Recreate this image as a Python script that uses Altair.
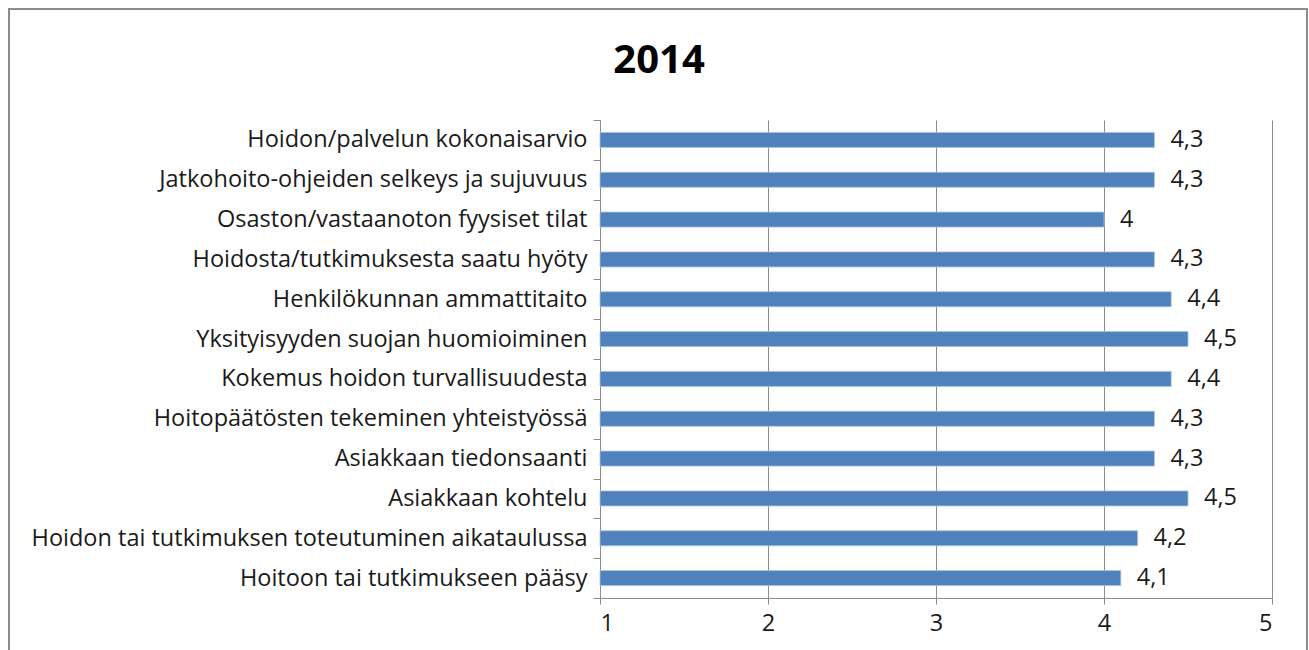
import altair as alt
import pandas as pd

categories = [
    "Hoidon/palvelun kokonaisarvio",
    "Jatkohoito-ohjeiden selkeys ja sujuvuus",
    "Osaston/vastaanoton fyysiset tilat",
    "Hoidosta/tutkimuksesta saatu hyöty",
    "Henkilökunnan ammattitaito",
    "Yksityisyyden suojan huomioiminen",
    "Kokemus hoidon turvallisuudesta",
    "Hoitopäätösten tekeminen yhteistyössä",
    "Asiakkaan tiedonsaanti",
    "Asiakkaan kohtelu",
    "Hoidon tai tutkimuksen toteutuminen aikataulussa",
    "Hoitoon tai tutkimukseen pääsy",
]
values = [4.3, 4.3, 4.0, 4.3, 4.4, 4.5, 4.4, 4.3, 4.3, 4.5, 4.2, 4.1]
x_ticks = [1, 2, 3, 4, 5]
title_text = "2014"

df = pd.DataFrame({"category": categories, "value": values})

FONT = "Open Sans"
GRID = "#8c8c8c"
TXT = "#1a1a1a"
FS = 23.5

base = alt.Chart(df).transform_calculate(
    base="1",
    label="replace(format(datum.value, '.2~g'), '.', ',')",
)

y_enc = alt.Y(
    "category:N",
    sort=categories,
    scale=alt.Scale(paddingInner=0, paddingOuter=0),
    axis=alt.Axis(
        title=None,
        labelFont=FONT,
        labelFontSize=FS,
        labelColor=TXT,
        labelPadding=6,
        tickBand="extent",
        tickSize=7,
        tickColor=GRID,
        domainColor=GRID,
        grid=False,
        labelLimit=700,
    ),
)

x_scale = alt.Scale(domain=[1, 5], nice=False, zero=False)

bars = base.mark_bar(size=15, color="#4F81BD", stroke="#A9C0DF", strokeWidth=0.8).encode(
    x=alt.X(
        "value:Q",
        scale=x_scale,
        axis=alt.Axis(
            title=None,
            values=x_ticks,
            format="d",
            labelFont=FONT,
            labelFontSize=FS,
            labelColor=TXT,
            labelPadding=7,
            tickSize=6,
            tickColor=GRID,
            domainColor=GRID,
            gridColor=GRID,
            grid=True,
        ),
    ),
    x2="base:Q",
    y=y_enc,
)

labels = base.mark_text(
    align="left", baseline="middle", dx=16, font=FONT, fontSize=FS, color=TXT
).encode(
    x=alt.X("value:Q", scale=x_scale),
    y=alt.Y("category:N", sort=categories),
    text="label:N",
)

frame = alt.Chart(df).mark_rect(fill=None, stroke="#8c8c8c", strokeWidth=2).encode(
    x=alt.value(-591), x2=alt.value(707), y=alt.value(-111), y2=alt.value(560)
)

chart = (
    alt.layer(frame, bars, labels)
    .properties(
        width=672,
        height=478,
        padding={"left": 600, "top": 120, "right": 37, "bottom": 52},
        autosize=alt.AutoSizeParams(type="none"),
        title=alt.TitleParams(
            title_text,
            font=FONT,
            fontSize=40,
            fontWeight="bold",
            color="#000000",
            anchor="middle",
            dx=-277,
            dy=151,
            baseline="alphabetic",
            offset=46,
        ),
    )
    .configure_view(stroke=None)
)

chart.save("out.html", embed_options={"renderer": "svg", "actions": False})
